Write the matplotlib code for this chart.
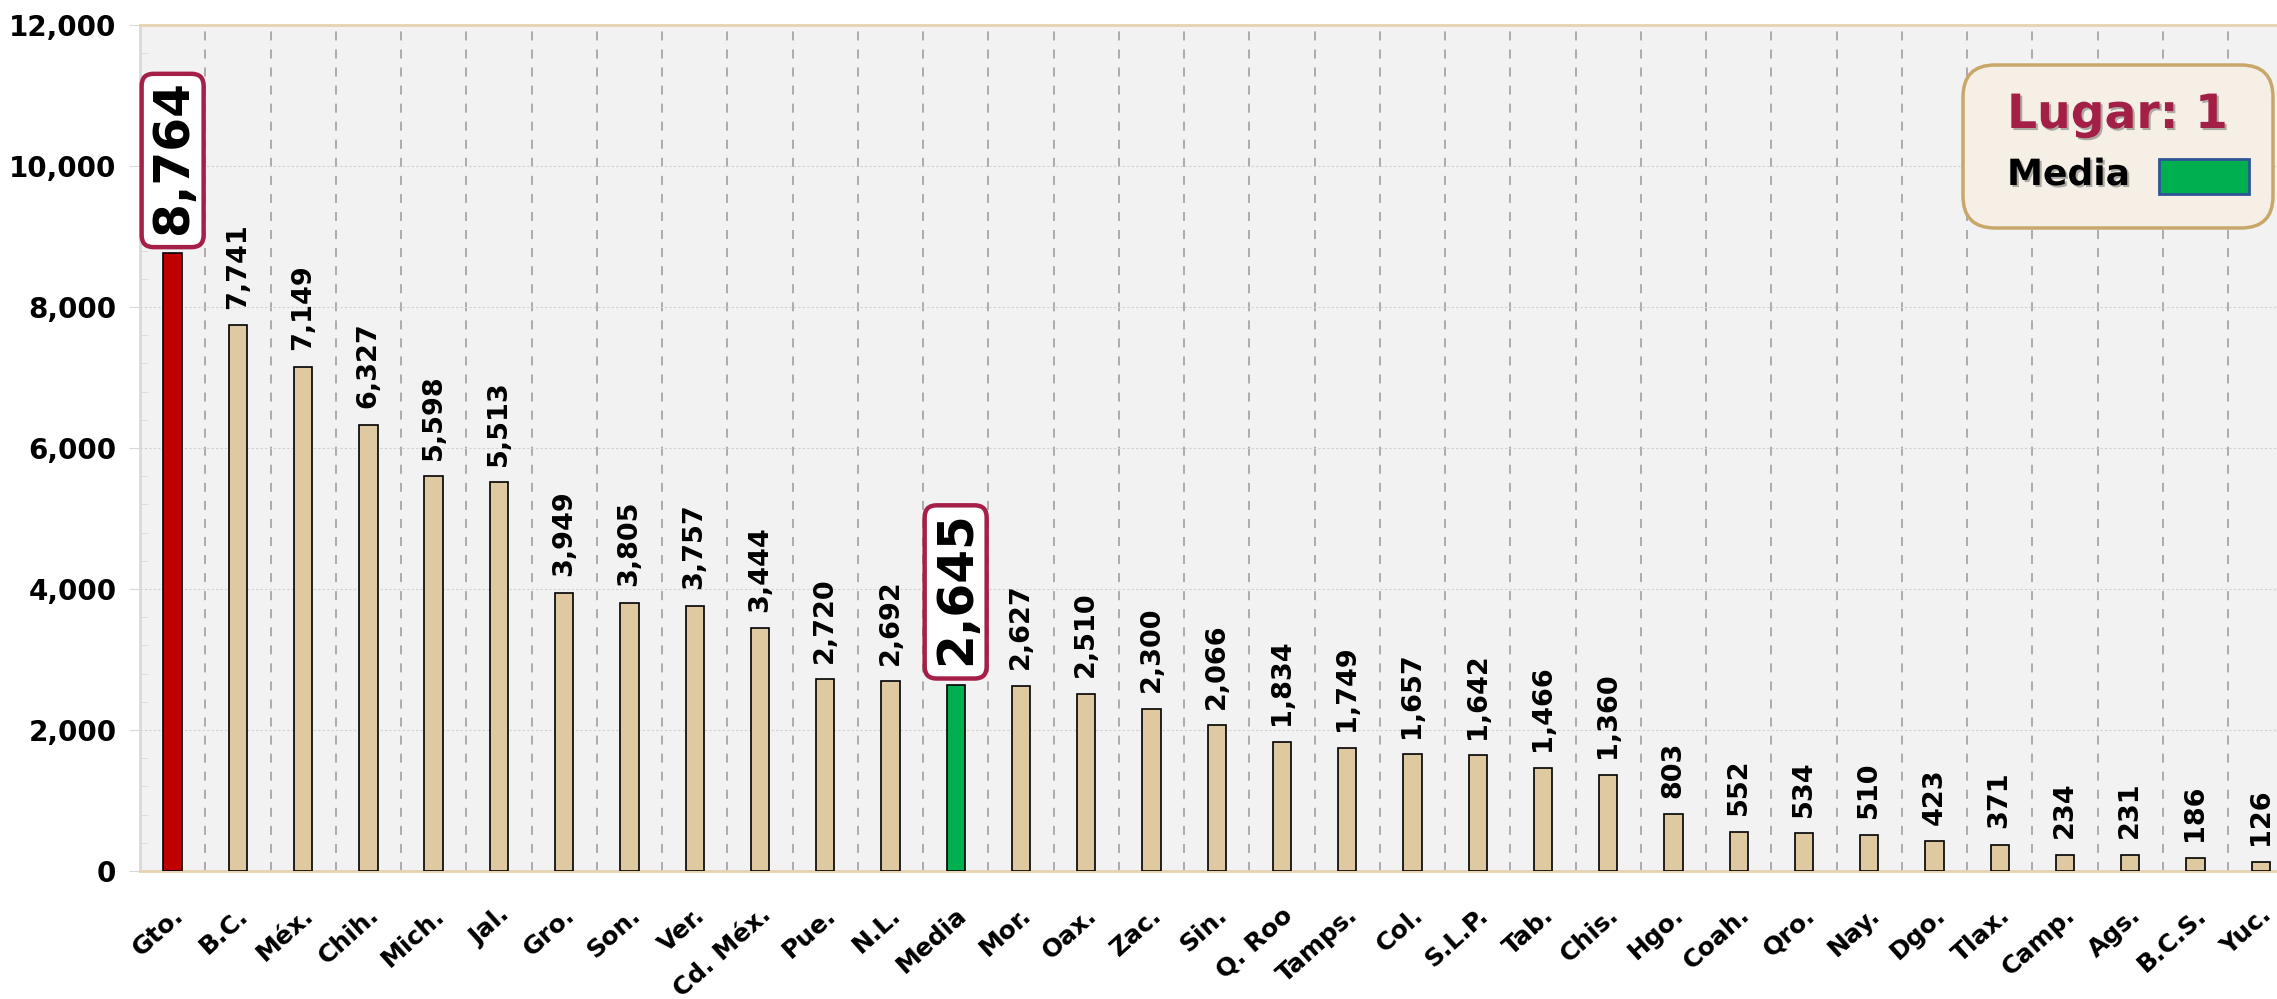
import matplotlib.pyplot as plt
import matplotlib.patheffects as pe
import matplotlib.transforms as mtransforms
from matplotlib.patches import FancyBboxPatch, Rectangle
from matplotlib.ticker import MultipleLocator, FuncFormatter
import numpy as np

# datos
estados = ["Gto.", "B.C.", "Méx.", "Chih.", "Mich.", "Jal.", "Gro.", "Son.", "Ver.", "Cd. Méx.",
           "Pue.", "N.L.", "Media", "Mor.", "Oax.", "Zac.", "Sin.", "Q. Roo", "Tamps.", "Col.",
           "S.L.P.", "Tab.", "Chis.", "Hgo.", "Coah.", "Qro.", "Nay.", "Dgo.", "Tlax.", "Camp.",
           "Ags.", "B.C.S.", "Yuc."]
valores = [8764, 7741, 7149, 6327, 5598, 5513, 3949, 3805, 3757, 3444,
           2720, 2692, 2645, 2627, 2510, 2300, 2066, 1834, 1749, 1657,
           1642, 1466, 1360, 803, 552, 534, 510, 423, 371, 234,
           231, 186, 126]
estado_destacado = "Gto."
nombre_media = "Media"
lugar = 1

plt.rcParams['font.family'] = ['DejaVu Sans']
plt.rcParams['font.weight'] = 'bold'

W, H = 2277, 999
fig = plt.figure(figsize=(W / 100, H / 100), dpi=100)
fig.patch.set_facecolor('white')
ax = fig.add_axes([140 / W, 128 / H, 1 - 140 / W, 846 / H])
ax.set_facecolor('#f2f2f2')

x = np.arange(len(estados))
colores = []
for e in estados:
    if e == estado_destacado:
        colores.append('#c00000')
    elif e == nombre_media:
        colores.append('#00b050')
    else:
        colores.append('#dfc9a0')
anchos = [0.30 if e == estado_destacado else 0.28 for e in estados]
ax.bar(x, valores, width=anchos, color=colores, edgecolor='black', linewidth=1.2, zorder=3)

ax.set_xlim(-0.5, 32.25)
ax.set_ylim(0, 12000)

# rejilla
ax.yaxis.set_major_locator(MultipleLocator(2000))
ax.yaxis.set_minor_locator(MultipleLocator(400))
ax.yaxis.set_major_formatter(FuncFormatter(lambda v, p: f"{int(v):,}"))
ax.grid(axis='y', which='major', color='#d0d0d0', linestyle=(0, (2, 2)), linewidth=0.8, zorder=1)
for xi in x[:-1]:
    ax.axvline(xi + 0.5, color='#a6a6a6', linestyle=(0, (5, 5)), linewidth=1.3, zorder=1)

ax.tick_params(axis='y', which='major', direction='out', length=8, color='#d9d9d9', labelsize=20, pad=9)
ax.tick_params(axis='y', which='minor', direction='in', length=6, color='#d9d9d9')
ax.spines['left'].set_color('#d9d9d9')
ax.spines['left'].set_linewidth(2)
ax.spines['right'].set_visible(False)
ax.spines['top'].set_color('#e6d3b0')
ax.spines['top'].set_linewidth(2)
ax.spines['bottom'].set_color('#e6d3b0')
ax.spines['bottom'].set_linewidth(2)

# etiquetas del eje x
ax.set_xticks(x)
ax.set_xticklabels(estados, rotation=42, ha='right', va='baseline', rotation_mode='anchor', fontsize=18)
ax.tick_params(axis='x', length=0, pad=0)
desplaza = mtransforms.ScaledTranslation(0.12, -0.46, fig.dpi_scale_trans)
for lbl in ax.get_xticklabels():
    lbl.set_transform(lbl.get_transform() + desplaza)

# etiquetas de valor
destacados = []
for xi, v, e in zip(x, valores, estados):
    if e in (estado_destacado, nombre_media):
        t = ax.annotate(f"{v:,}", (xi, v), xytext=(0, 14), textcoords='offset points',
                        rotation=90, ha='center', va='bottom', fontsize=35, fontweight='bold', zorder=6)
        destacados.append((xi, v, t))
    else:
        ax.annotate(f"{v:,}", (xi, v), xytext=(0, 12), textcoords='offset points',
                    rotation=90, ha='center', va='bottom', fontsize=19.5, fontweight='bold', zorder=4)

fig.canvas.draw()
for xi, v, t in destacados:
    bb = t.get_window_extent()
    px, py = ax.transData.transform((xi, v))
    caja = FancyBboxPatch((px - 31, py + 6), 62, bb.y1 + 6 - (py + 6),
                          boxstyle='round,pad=0,rounding_size=12',
                          facecolor='white', edgecolor='#a51f48', linewidth=3.2,
                          transform=mtransforms.IdentityTransform(), zorder=5, clip_on=False)
    ax.add_patch(caja)

# cuadro de leyenda
sombra = [pe.withSimplePatchShadow(offset=(1.5, -1.5), shadow_rgbFace='#555555', alpha=0.45)]
fig.add_artist(FancyBboxPatch((1963, 999 - 228), 310, 163,
                              boxstyle='round,pad=0,rounding_size=32',
                              facecolor='#f5efe6', edgecolor='#c9a76a', linewidth=2.5,
                              transform=mtransforms.IdentityTransform()))
fig.text(2007 / W, (999 - 128) / H, f"Lugar: {lugar}", color='#a31f45', fontsize=34,
         fontweight='bold', va='baseline', ha='left', path_effects=sombra)
fig.text(2007 / W, (999 - 185) / H, nombre_media, color='black', fontsize=26,
         fontweight='bold', va='baseline', ha='left', path_effects=sombra)
fig.add_artist(Rectangle((2159, 999 - 194), 90, 35, facecolor='#00b050', edgecolor='#2f5597',
                         linewidth=2, transform=mtransforms.IdentityTransform()))

fig.savefig('out.png', dpi=100)
